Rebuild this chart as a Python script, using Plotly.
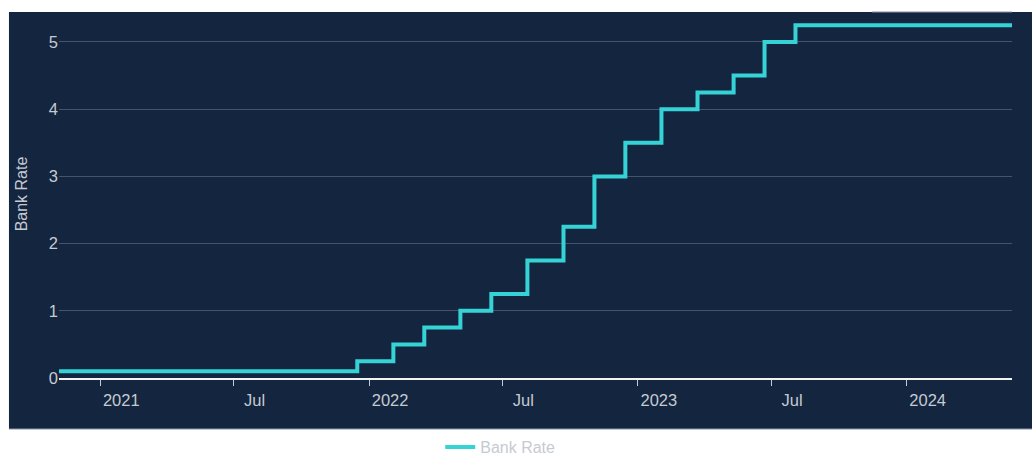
import plotly.graph_objects as go

dates = ["2020-11-06", "2021-12-16", "2022-02-03", "2022-03-17", "2022-05-05", "2022-06-16",
         "2022-08-04", "2022-09-22", "2022-11-03", "2022-12-15", "2023-02-02", "2023-03-23",
         "2023-05-11", "2023-06-22", "2023-08-03", "2024-05-23"]
rates = [0.1, 0.25, 0.5, 0.75, 1.0, 1.25, 1.75, 2.25, 3.0, 3.5, 4.0, 4.25, 4.5, 5.0, 5.25, 5.25]

tick_vals = ["2021-01-01", "2021-07-01", "2022-01-01", "2022-07-01", "2023-01-01", "2023-07-01", "2024-01-01"]
tick_text = ["2021", "Jul", "2022", "Jul", "2023", "Jul", "2024"]

BG = "#13253f"
TXT = "#c6cad2"
FONT = "Liberation Sans, Arial, sans-serif"

fig = go.Figure()
fig.add_trace(go.Scatter(x=dates, y=rates, mode="lines", name="Bank Rate",
                         line=dict(color="#36d3d6", width=4, shape="hv")))

fig.update_layout(
    width=1032, height=461,
    margin=dict(l=59, r=20, t=10, b=83, autoexpand=False),
    paper_bgcolor="white", plot_bgcolor="rgba(0,0,0,0)",
    font=dict(family=FONT, size=16, color=TXT),
    showlegend=True,
    legend=dict(orientation="h", x=0.463, xanchor="center", yref="container",
                y=0.03, yanchor="middle", font=dict(family=FONT, size=16, color=TXT)),
    shapes=[dict(type="rect", xref="paper", yref="paper", x0=-0.0525, x1=1.1,
                 y0=-0.1386, y1=0.9946, fillcolor=BG, line=dict(width=0),
                 layer="below"),
            dict(type="line", xref="paper", yref="paper", x0=-0.0525, x1=1.1,
                 y0=-0.1386, y1=-0.1386, line=dict(color="#8a95a8", width=1)),
            dict(type="line", xref="paper", yref="paper", x0=0.853, x1=1.0,
                 y0=0.9946, y1=0.9946, line=dict(color="#8a95a8", width=1))],
)
fig.update_xaxes(range=["2020-11-06", "2024-05-23"], tickvals=tick_vals, ticktext=tick_text,
                 showgrid=False, showline=True, linecolor="#f2f2f2", linewidth=2,
                 ticks="outside", ticklen=6, tickcolor="#c6cad2", tickwidth=1,
                 ticklabelshift=21, tickfont=dict(family=FONT, size=16.5, color=TXT),
                 zeroline=False, automargin=False)
fig.update_yaxes(range=[0, 5.476], tickvals=[0, 1, 2, 3, 4, 5], showgrid=True,
                 gridcolor="rgba(255,255,255,0.22)", gridwidth=1, zeroline=False,
                 title=dict(text="Bank Rate", font=dict(family=FONT, size=16, color=TXT), standoff=17),
                 tickfont=dict(family=FONT, size=16.5, color=TXT), automargin=False)

fig.write_html("out.html")
